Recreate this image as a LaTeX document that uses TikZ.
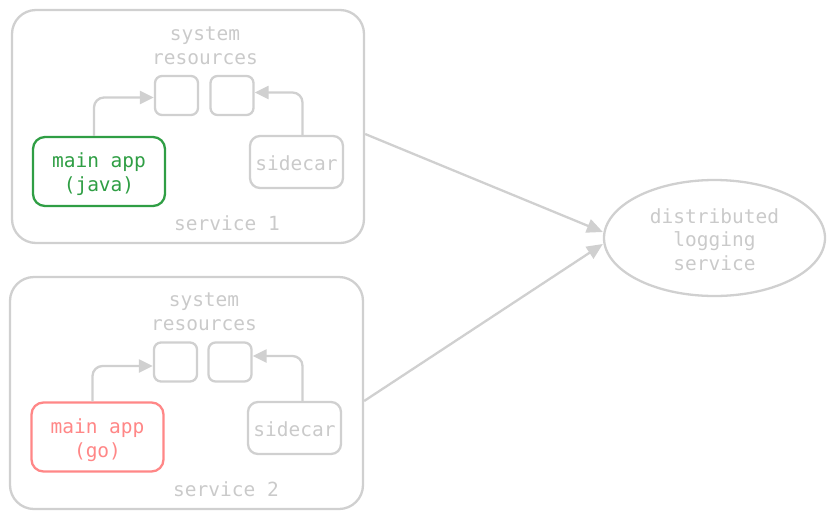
\documentclass[tikz,border=0pt]{standalone}
\usepackage{fontspec}
\setmonofont{DejaVu Sans Mono}
\usetikzlibrary{arrows.meta,shapes.geometric,calc}
\definecolor{lgray}{HTML}{D0D0D0}
\definecolor{tgray}{HTML}{CACACA}
\definecolor{appgreen}{HTML}{2F9E44}
\definecolor{appred}{HTML}{FF8787}
\begin{document}
\begin{tikzpicture}[x=1pt,y=-1pt,
  every node/.style={font=\ttfamily\fontsize{19.5}{23.5}\selectfont, align=center, inner sep=0pt},
  svcbox/.style={draw=lgray, line width=2.3pt, rounded corners=24pt},
  resbox/.style={draw=lgray, line width=2.3pt, rounded corners=7pt, minimum width=43pt, minimum height=39pt},
  appbox/.style={line width=2.3pt, rounded corners=12pt, minimum width=132pt, minimum height=69pt},
  carbox/.style={draw=lgray, line width=2.3pt, rounded corners=10pt, minimum width=93pt, minimum height=52pt, text=tgray},
  lbl/.style={text=tgray},
  arr/.style={draw=lgray, line width=2.3pt, rounded corners=10pt, -{Triangle[length=14pt,width=13pt]}},
  link/.style={draw=lgray, line width=2.3pt, -{Triangle[length=16pt,width=14pt]}}]
\useasboundingbox (0,0) rectangle (835,520);

% service 1
\node[svcbox, minimum width=352pt, minimum height=233pt] (s1) at (188,126.5) {};
\node[lbl] (r1lbl) at (205,46) {system\\resources};
\node[resbox] (ra1) at (176.5,95.5) {};
\node[resbox] (rb1) at (232,95.5) {};
\node[appbox, draw=appgreen, text=appgreen] (app1) at (99,171.5) {};
\node[text=appgreen] (app1t) at (99,174) {main app\\(java)};
\node[carbox] (sc1) at (296.5,162) {};
\node[lbl] (sc1t) at (296.5,163.5) {sidecar};
\node[lbl] (n1) at (227,223.5) {service 1};
\draw[arr] ([xshift=-5pt]app1.north) |- ([yshift=-2pt]ra1.west);
\draw[arr] ([xshift=6pt]sc1.north) |- ([yshift=3pt]rb1.east);

% service 2
\node[svcbox, minimum width=353pt, minimum height=232pt] (s2) at (186.5,393) {};
\node[lbl] (r2lbl) at (204,312) {system\\resources};
\node[resbox] (ra2) at (175.5,362) {};
\node[resbox] (rb2) at (230,362) {};
\node[appbox, draw=appred] (app2) at (97.5,437) {};
\node[text=appred] (app2t) at (97.5,440) {main app\\(go)};
\node[carbox] (sc2) at (294.5,428) {};
\node[lbl] (sc2t) at (294.5,429.5) {sidecar};
\node[lbl] (n2) at (226,489.5) {service 2};
\draw[arr] ([xshift=-5pt]app2.north) |- ([yshift=-4pt]ra2.west);
\draw[arr] ([xshift=8pt]sc2.north) |- ([yshift=6pt]rb2.east);

% logging service
\node[ellipse, draw=lgray, line width=2.3pt, minimum width=221pt, minimum height=116pt] (log) at (714.5,238) {};
\node[lbl] (logt) at (714.5,239.5) {distributed\\logging\\service};

\draw[link] (s1.east |- 0,134) -- ([yshift=6pt]log.west);
\draw[link] (s2.east |- 0,401) -- ([yshift=-6pt]log.west);
\end{tikzpicture}
\end{document}
